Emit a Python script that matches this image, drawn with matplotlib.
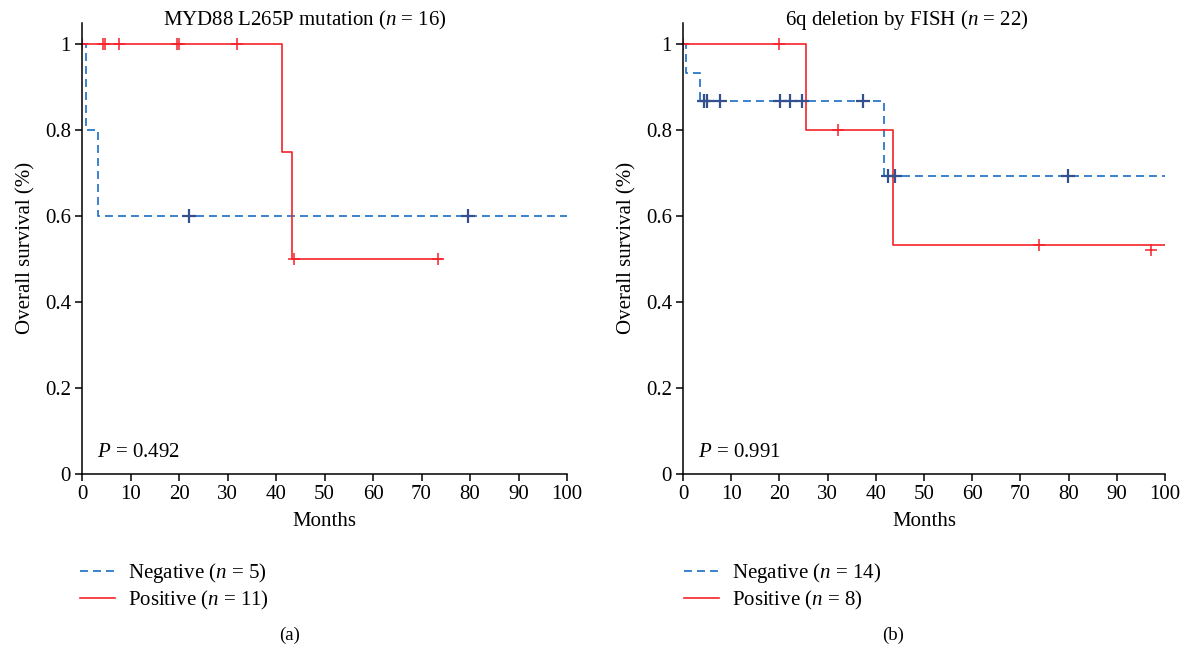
import matplotlib
matplotlib.use('Agg')
import matplotlib.pyplot as plt

plt.rcParams['font.family'] = ['Liberation Serif', 'DejaVu Serif']
plt.rcParams['mathtext.fontset'] = 'custom'
plt.rcParams['mathtext.it'] = 'Liberation Serif:italic'
plt.rcParams['mathtext.rm'] = 'Liberation Serif'

# panel (a): MYD88 L265P mutation
a_neg_t = [0, 0.8, 3.3, 100]
a_neg_s = [1, 0.8, 0.6, 0.6]
a_neg_cx = [22.0, 79.5]
a_neg_cy = [0.6, 0.6]
a_pos_t = [0, 41.3, 43.4, 74.3]
a_pos_s = [1, 0.75, 0.5, 0.5]
a_pos_cx = [0, 4.4, 4.8, 7.6, 19.6, 20.0, 31.9, 43.8, 73.3]
a_pos_cy = [1, 1, 1, 1, 1, 1, 1, 0.5, 0.5]

# panel (b): 6q deletion by FISH
b_neg_t = [0, 0.6, 3.5, 41.6, 100]
b_neg_s = [1, 0.933, 0.867, 0.693, 0.693]
b_neg_cx = [4.4, 4.9, 7.7, 20.1, 22.2, 24.6, 37.3, 42.6, 44.0, 79.9]
b_neg_cy = [0.867] * 7 + [0.693] * 3
b_pos_t = [0, 25.6, 43.6, 100]
b_pos_s = [1, 0.8, 0.533, 0.533]
b_pos_cx = [0, 19.9, 32.1, 73.9, 97.1]
b_pos_cy = [1, 1, 0.8, 0.533, 0.52]

titles = ['MYD88 L265P mutation ($n$ = 16)', '6q deletion by FISH ($n$ = 22)']
pvals = ['$P$ = 0.492', '$P$ = 0.991']
neg_labels = ['Negative ($n$ = 5)', 'Negative ($n$ = 14)']
pos_labels = ['Positive ($n$ = 11)', 'Positive ($n$ = 8)']
panel_tags = ['(a)', '(b)']
xticks = list(range(0, 101, 10))
yticks = [0, 0.2, 0.4, 0.6, 0.8, 1]
ytick_labels = ['0', '0.2', '0.4', '0.6', '0.8', '1']

BLUE = '#2a78c8'
NAVY = '#33508f'
RED = '#f5222a'
FS = 15

W, H = 1189, 649
fig = plt.figure(figsize=(W / 100, H / 100), dpi=100)


def px(x, y):
    return x / W, 1 - y / H


def draw_panel(rect, neg, pos, title, title_x, pval, labels, tag, tag_x, leg_x):
    ax = fig.add_axes(rect)
    nt, ns, ncx, ncy = neg
    pt, ps, pcx, pcy = pos
    ln_neg, = ax.step(nt, ns, where='post', color=BLUE, lw=1.3,
                      dashes=(4.4, 2.8), label=labels[0])
    ln_pos, = ax.step(pt, ps, where='post', color=RED, lw=1.2,
                      label=labels[1])
    ax.plot(ncx, ncy, ls='none', marker='+', ms=10, mew=1.6, color=NAVY)
    ax.plot(pcx, pcy, ls='none', marker='+', ms=9, mew=1.1, color=RED)

    ax.set_xlim(0, 100)
    ax.set_ylim(0, 1.05)
    ax.set_xticks(xticks)
    ax.set_yticks(yticks)
    ax.set_yticklabels(ytick_labels)
    for s in ['top', 'right']:
        ax.spines[s].set_visible(False)
    for s in ['left', 'bottom']:
        ax.spines[s].set_linewidth(1.1)
    ax.tick_params(direction='out', length=5, width=1.1, labelsize=FS, pad=3)
    ax.set_xlabel('Months', fontsize=FS, labelpad=6)
    ax.set_ylabel('Overall survival (%)', fontsize=FS, labelpad=7)
    ax.text(3.1, 0.05, pval, fontsize=FS, va='center', ha='left')

    tx, ty = px(title_x, 20)
    fig.text(tx, ty, title, fontsize=FS, ha='center', va='center')
    gx, gy = px(tag_x, 635)
    fig.text(gx, gy, tag, fontsize=13.5, ha='center', va='center')

    lx, ly = px(leg_x, 561)
    ax.legend(handles=[ln_neg, ln_pos], loc='upper left',
              bbox_to_anchor=(lx, ly), bbox_transform=fig.transFigure,
              frameon=False, fontsize=FS, handlelength=1.7,
              handletextpad=0.58, labelspacing=0.2, borderpad=0,
              borderaxespad=0)
    return ax


draw_panel([82 / W, 175 / H, 485 / W, 451.5 / H],
           (a_neg_t, a_neg_s, a_neg_cx, a_neg_cy),
           (a_pos_t, a_pos_s, a_pos_cx, a_pos_cy),
           titles[0], 305, pvals[0], [neg_labels[0], pos_labels[0]],
           panel_tags[0], 290, 80)
draw_panel([683 / W, 175 / H, 482 / W, 451.5 / H],
           (b_neg_t, b_neg_s, b_neg_cx, b_neg_cy),
           (b_pos_t, b_pos_s, b_pos_cx, b_pos_cy),
           titles[1], 907, pvals[1], [neg_labels[1], pos_labels[1]],
           panel_tags[1], 893, 684)

fig.savefig('out.png', dpi=100)
